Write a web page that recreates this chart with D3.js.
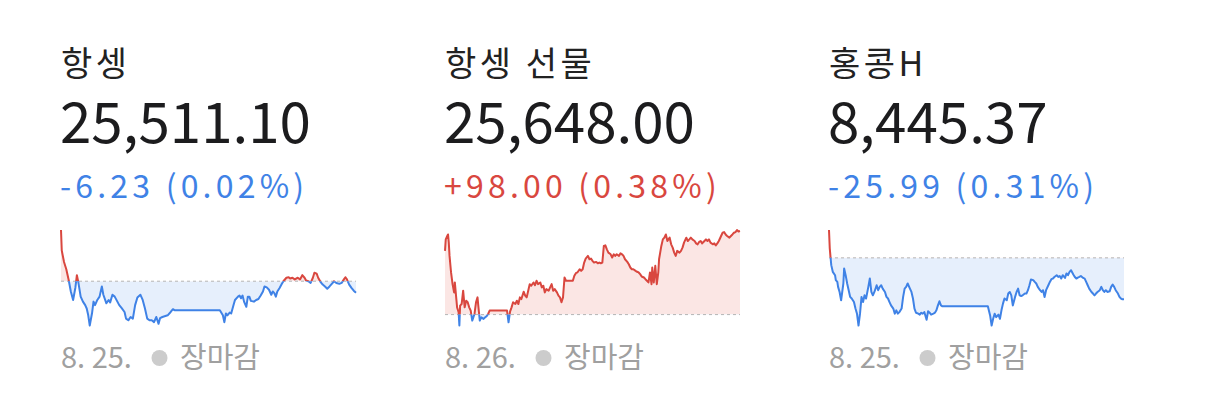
<!DOCTYPE html>
<html>
<head>
<meta charset="utf-8">
<script src="https://cdn.jsdelivr.net/npm/d3@7"></script>
<style>
html, body { margin: 0; padding: 0; background: #fff; }
svg { display: block; font-family: "Noto Sans CJK KR", "Noto Sans", sans-serif; }
</style>
</head>
<body>
<svg id="chart" width="1206" height="409"></svg>
<script>
// names, quotes and session info
var titles = ["항셍", "항셍 선물", "홍콩H"];
var prices = ["25,511.10", "25,648.00", "8,445.37"];
var changes = ["-6.23 (0.02%)", "+98.00 (0.38%)", "-25.99 (0.31%)"];
var dates = ["8. 25.", "8. 26.", "8. 25."];
var status = "장마감";
var prevClose = [25517.33, 25550.00, 8471.36];

// intraday series: [minutes since open, index value]
var hsi = [[0,25545.0],[1,25533.9],[4,25527.7],[7,25523.8],[10,25518.3],[13,25511.8],[16,25507.2],[19,25513.8],[21,25520.6],[23,25516.6],
  [26,25509.0],[29,25506.3],[32,25504.4],[34,25502.6],[36,25498.9],[38,25493.4],[41,25500.0],[43,25506.3],[45,25504.4],[48,25507.2],
  [51,25509.0],[54,25514.5],[56,25510.0],[60,25505.4],[63,25507.2],[65,25505.9],[68,25510.0],[71,25509.0],[74,25506.7],[77,25504.4],
  [80,25502.9],[84,25500.7],[86,25497.1],[89,25496.2],[92,25498.0],[95,25497.1],[98,25504.4],[101,25508.5],[105,25510.0],[108,25507.2],
  [111,25502.6],[114,25497.1],[117,25496.2],[120,25496.2],[123,25495.2],[126,25498.0],[129,25494.3],[131,25497.4],[134,25498.0],[138,25498.5],
  [141,25498.9],[145,25500.7],[148,25502.2],[150,25501.7],[210,25501.7],[214,25498.9],[216,25495.2],[218,25499.9],[220,25498.9],[223,25500.4],
  [225,25499.9],[228,25504.4],[230,25507.2],[234,25509.0],[236,25509.6],[238,25508.1],[240,25509.6],[242,25506.3],[245,25503.5],[247,25509.0],
  [249,25509.0],[251,25506.7],[255,25506.3],[258,25507.2],[261,25507.7],[264,25509.6],[267,25511.8],[269,25514.5],[272,25514.0],[275,25512.7],
  [278,25510.0],[280,25511.8],[282,25510.9],[284,25509.0],[286,25511.8],[289,25513.7],[292,25515.9],[294,25517.3],[298,25519.2],[301,25519.5],
  [303,25518.8],[306,25519.2],[309,25518.3],[313,25519.2],[316,25518.3],[319,25520.6],[322,25519.2],[324,25517.7],[327,25517.3],[330,25516.4],
  [333,25519.2],[335,25521.9],[338,25521.4],[340,25519.2],[343,25517.0],[346,25515.5],[349,25514.5],[352,25513.3],[355,25514.5],[358,25515.9],
  [361,25517.3],[364,25516.4],[368,25515.9],[371,25516.4],[374,25518.3],[376,25519.5],[378,25518.3],[381,25515.5],[384,25513.7],[387,25512.2],
  [390,25511.1]];

var hsiFut = [[0,25624.7],[1,25638.2],[3,25642.2],[4,25644.0],[5,25634.4],[6,25618.8],[8,25599.4],[10,25585.7],[12,25576.0],[13,25587.7],
  [15,25568.2],[16,25558.5],[18,25552.7],[19,25537.2],[20,25560.5],[22,25562.4],[24,25578.0],[26,25558.5],[28,25566.3],[30,25564.4],
  [32,25558.5],[34,25554.7],[36,25543.0],[39,25550.7],[41,25564.4],[43,25570.2],[44,25560.5],[46,25543.0],[48,25546.8],[51,25544.9],
  [53,25546.8],[55,25548.0],[57,25550.7],[59,25554.7],[82,25554.7],[84,25541.0],[86,25553.5],[88,25558.5],[90,25564.4],[93,25562.4],
  [95,25566.3],[97,25562.4],[99,25570.2],[101,25568.2],[104,25576.8],[106,25572.2],[108,25570.2],[110,25578.0],[112,25585.7],[114,25583.8],
  [117,25587.7],[119,25584.5],[121,25589.7],[123,25585.7],[126,25587.7],[128,25581.9],[130,25583.8],[132,25576.0],[134,25579.9],[137,25578.0],
  [139,25581.9],[141,25585.7],[143,25578.0],[145,25579.9],[148,25576.0],[150,25572.2],[152,25570.2],[154,25564.4],[156,25570.2],[158,25593.5],
  [160,25589.7],[169,25589.7],[171,25595.5],[173,25598.5],[175,25599.4],[178,25603.2],[180,25601.3],[182,25603.2],[184,25611.0],[186,25615.7],
  [189,25618.8],[191,25614.9],[193,25615.7],[195,25613.0],[197,25611.0],[200,25611.8],[202,25610.2],[204,25611.0],[206,25610.2],[208,25611.0],
  [210,25630.5],[212,25631.2],[214,25626.5],[216,25622.7],[219,25620.7],[221,25616.9],[223,25620.7],[225,25618.8],[227,25620.7],[230,25618.8],
  [232,25621.9],[234,25620.7],[236,25618.8],[238,25614.9],[241,25611.8],[243,25609.0],[245,25605.2],[247,25603.2],[249,25603.2],[252,25601.3],
  [254,25600.2],[256,25599.4],[258,25597.4],[260,25594.7],[263,25593.5],[265,25591.5],[267,25589.7],[269,25587.7],[271,25599.4],[273,25585.7],
  [274,25605.2],[276,25587.7],[278,25607.2],[280,25585.7],[282,25599.4],[283,25614.9],[286,25630.5],[288,25638.2],[290,25640.2],[292,25644.0],
  [294,25636.3],[297,25640.2],[299,25632.4],[301,25628.5],[303,25622.7],[305,25618.8],[307,25624.7],[310,25622.7],[312,25624.7],[314,25628.5],
  [316,25634.4],[319,25640.2],[321,25636.3],[323,25638.2],[325,25640.2],[327,25638.2],[330,25636.3],[332,25633.5],[334,25632.4],[336,25635.2],
  [338,25636.3],[340,25633.5],[343,25636.3],[345,25638.2],[347,25636.3],[349,25638.2],[351,25634.4],[354,25632.4],[356,25633.5],[358,25631.2],
  [360,25633.5],[362,25636.3],[365,25642.2],[367,25646.0],[369,25646.8],[371,25644.0],[373,25642.2],[376,25640.2],[378,25642.2],[380,25644.0],
  [382,25646.0],[384,25646.8],[386,25649.2],[388,25647.5],[390,25648.0]];

var hscei = [[0,8488.8],[1,8477.3],[2,8472.0],[3,8466.8],[5,8462.6],[8,8460.5],[9,8457.4],[11,8456.3],[12,8453.2],[14,8450.0],
  [16,8444.8],[19,8455.3],[20,8464.7],[22,8460.5],[24,8455.3],[26,8451.1],[28,8446.9],[30,8445.9],[33,8443.7],[35,8439.6],
  [37,8436.4],[39,8429.0],[41,8436.4],[43,8446.9],[45,8443.7],[47,8447.9],[49,8445.9],[52,8453.2],[54,8458.4],[56,8450.0],
  [58,8447.9],[60,8450.0],[63,8454.2],[65,8451.1],[67,8453.2],[69,8454.2],[71,8452.1],[74,8450.0],[76,8446.9],[78,8445.9],
  [80,8443.7],[82,8441.6],[85,8439.6],[87,8436.4],[89,8438.5],[91,8436.4],[93,8437.4],[96,8439.6],[98,8446.9],[100,8452.1],
  [102,8453.2],[104,8455.3],[107,8452.1],[109,8450.0],[111,8445.9],[113,8439.6],[115,8437.0],[118,8436.4],[120,8435.8],[122,8437.0],
  [124,8436.4],[126,8437.4],[129,8432.6],[131,8437.9],[133,8437.0],[135,8435.8],[138,8436.4],[140,8437.0],[142,8438.5],[144,8441.6],
  [146,8444.2],[148,8441.6],[150,8441.0],[210,8441.0],[213,8435.3],[215,8429.0],[217,8433.2],[219,8436.4],[221,8434.2],[224,8435.8],
  [226,8433.2],[228,8438.5],[230,8442.7],[232,8445.9],[235,8444.8],[237,8449.0],[239,8450.0],[241,8447.9],[243,8441.6],[246,8446.9],
  [248,8450.0],[250,8452.1],[252,8447.9],[254,8447.5],[256,8447.9],[259,8449.0],[261,8449.0],[263,8451.1],[265,8454.2],[267,8457.8],
  [270,8457.4],[272,8456.3],[274,8455.3],[276,8453.2],[279,8451.1],[281,8450.0],[283,8451.1],[285,8446.9],[287,8451.1],[290,8454.2],
  [292,8456.3],[294,8458.0],[296,8458.4],[298,8459.4],[301,8460.5],[303,8459.4],[305,8460.0],[307,8458.4],[309,8460.5],[312,8458.8],
  [314,8461.6],[316,8460.5],[318,8462.6],[320,8463.6],[323,8461.0],[325,8459.4],[327,8458.4],[329,8459.0],[331,8459.4],[333,8460.0],
  [336,8458.8],[338,8458.4],[340,8456.3],[342,8454.2],[344,8452.1],[347,8450.0],[349,8449.0],[351,8447.9],[353,8449.0],[355,8450.0],
  [358,8451.1],[360,8453.2],[362,8451.1],[364,8450.0],[366,8451.1],[368,8450.0],[371,8450.4],[373,8453.2],[375,8454.6],[377,8453.2],
  [379,8451.1],[382,8449.0],[384,8446.9],[386,8445.9],[388,8445.4],[390,8445.37]];

var series = [hsi, hsiFut, hscei];
var sessionMinutes = 390;

// layout
var panelLeft = [61, 445, 829];
var plotW = 295, plotTop = 230, plotBottom = 325.5;
var upColor = "#d9473f", downColor = "#3f82e6";
var upFill = "#fbe6e4", downFill = "#e6effc";

var svg = d3.select("#chart");
var defs = svg.append("defs");

var x = d3.scaleLinear().domain([0, sessionMinutes]).range([0, plotW]);

series.forEach(function(data, i) {
  var g = svg.append("g").attr("transform", "translate(" + panelLeft[i] + ",0)");
  var up = changes[i].charAt(0) == "+";

  g.append("text").attr("x", 0).attr("y", 76)
    .style("font-size", "34px").style("letter-spacing", "3.5px")
    .attr("fill", "#222")
    .text(titles[i]);

  g.append("text").attr("x", -1).attr("y", 143)
    .style("font-size", "56.5px").attr("fill", "#1c1c1e")
    .text(prices[i]);

  g.append("text").attr("x", -1).attr("y", 198)
    .style("font-size", "32px").style("letter-spacing", "4.2px")
    .attr("fill", up ? upColor : downColor)
    .text(changes[i]);

  // sparkline
  var ext = d3.extent(data, function(d) { return d[1]; });
  var y = d3.scaleLinear()
    .domain([Math.min(ext[0], prevClose[i]), Math.max(ext[1], prevClose[i])])
    .range([plotBottom, plotTop]);
  var base = y(prevClose[i]);

  defs.append("clipPath").attr("id", "above" + i)
    .append("rect").attr("x", -5).attr("y", 0).attr("width", plotW + 10).attr("height", base);
  defs.append("clipPath").attr("id", "below" + i)
    .append("rect").attr("x", -5).attr("y", base).attr("width", plotW + 10).attr("height", 409 - base);

  var area = d3.area()
    .x(function(d) { return x(d[0]); })
    .y0(base)
    .y1(function(d) { return y(d[1]); });
  var line = d3.line()
    .x(function(d) { return x(d[0]); })
    .y(function(d) { return y(d[1]); });

  g.append("path").datum(data).attr("d", area)
    .attr("fill", upFill).attr("clip-path", "url(#above" + i + ")");
  g.append("path").datum(data).attr("d", area)
    .attr("fill", downFill).attr("clip-path", "url(#below" + i + ")");

  g.append("line")
    .attr("x1", 0).attr("x2", plotW)
    .attr("y1", base).attr("y2", base)
    .attr("stroke", "#b5b5b5").attr("stroke-width", 1)
    .attr("stroke-dasharray", "3,3");

  g.append("path").datum(data).attr("d", line)
    .attr("fill", "none").attr("stroke", upColor).attr("stroke-width", 2)
    .attr("stroke-linejoin", "round")
    .attr("clip-path", "url(#above" + i + ")");
  g.append("path").datum(data).attr("d", line)
    .attr("fill", "none").attr("stroke", downColor).attr("stroke-width", 2)
    .attr("stroke-linejoin", "round")
    .attr("clip-path", "url(#below" + i + ")");

  // date + market status
  g.append("text").attr("x", 0).attr("y", 368)
    .style("font-size", "29px").attr("fill", "#a0a0a0")
    .text(dates[i]);
  g.append("circle").attr("cx", 98.5).attr("cy", 358).attr("r", 8)
    .attr("fill", "#cccccc");
  g.append("text").attr("x", 119).attr("y", 368)
    .style("font-size", "29px").attr("fill", "#a0a0a0")
    .text(status);
});
</script>
</body>
</html>
